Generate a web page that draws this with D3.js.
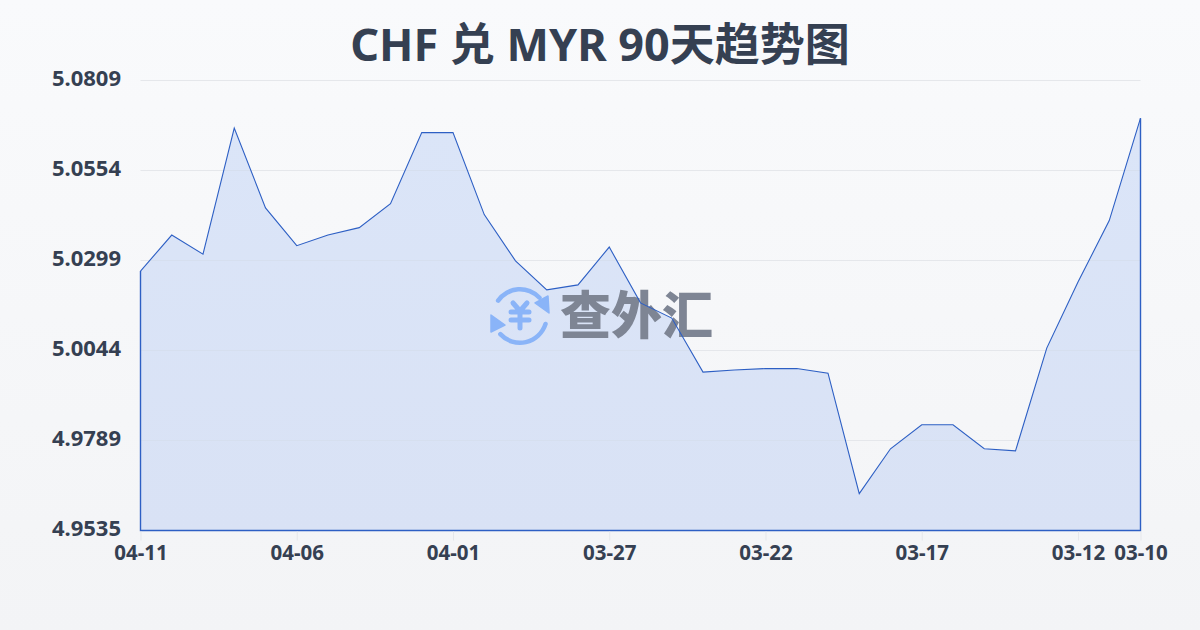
<!DOCTYPE html>
<html><head><meta charset="utf-8">
<script src="https://cdn.jsdelivr.net/npm/d3@7/dist/d3.min.js"></script>
<style>html,body{margin:0;padding:0;background:#f8fafc}svg{display:block}</style>
</head><body><div id="c"></div>
<script>
const chartTitle = "CHF 兑 MYR 90天趋势图";
const watermark = "查外汇";
const dates = ["04-11","04-10","04-09","04-08","04-07","04-06","04-05","04-04","04-03","04-02","04-01","03-31","03-30","03-29","03-28","03-27","03-26","03-25","03-24","03-23","03-22","03-21","03-20","03-19","03-18","03-17","03-16","03-15","03-14","03-13","03-12","03-11","03-10"];
const values = [5.0268,5.0370,5.0316,5.0673,5.0447,5.0340,5.0370,5.0391,5.0459,5.0660,5.0660,5.0428,5.0297,5.0215,5.0229,5.0336,5.0178,5.0135,4.9982,4.9988,4.9992,4.9992,4.9979,4.9638,4.9765,4.9833,4.9833,4.9765,4.9759,5.0050,5.0237,5.0411,5.0701];
const yTicks = [5.0809,5.0554,5.0299,5.0044,4.9789,4.9535];
const xTickLabels = ["04-11","04-06","04-01","03-27","03-22","03-17","03-12","03-10"];

const W=1200,H=630,m={l:140.5,r:1140.5,t:80,b:530.5};
const svg=d3.select("#c").append("svg").attr("width",W).attr("height",H);
const defs=svg.append("defs");
const bg=defs.append("linearGradient").attr("id","bg").attr("x1",0).attr("y1",0).attr("x2",0).attr("y2",1);
bg.append("stop").attr("offset",0).attr("stop-color","#f9fafc");
bg.append("stop").attr("offset",1).attr("stop-color","#f3f4f6");
const ag=defs.append("linearGradient").attr("id","ag").attr("x1",0).attr("y1",0).attr("x2",0).attr("y2",1);
ag.append("stop").attr("offset",0).attr("stop-color","#dbe5f8");
ag.append("stop").attr("offset",1).attr("stop-color","#d9e2f5");
svg.append("rect").attr("width",W).attr("height",H).attr("fill","url(#bg)");

const x=d3.scalePoint().domain(dates).range([m.l,m.r]);
const y=d3.scaleLinear().domain([4.9535,5.0809]).range([530,m.t]);
const sans="'Noto Sans','Noto Sans CJK SC',sans-serif";
const ink="#354052", stroke="#2d5fc4";

svg.append("text").attr("x",600).attr("y",61).attr("text-anchor","middle")
 .attr("font-family",sans).attr("font-weight",700).attr("font-size",45).attr("fill",ink).text(chartTitle);

svg.append("g").selectAll("line").data(yTicks).join("line")
 .attr("x1",m.l).attr("x2",m.r).attr("y1",d=>Math.round(y(d))+.5).attr("y2",d=>Math.round(y(d))+.5)
 .attr("stroke","#e5e7eb").attr("stroke-width",1);

const area=d3.area().x((d,i)=>x(dates[i])).y0(m.b).y1(d=>y(d));
svg.append("path").datum(values).attr("d",area).attr("fill","url(#ag)");
svg.append("g").selectAll("line").data(yTicks.slice(1,5)).join("line")
 .attr("clip-path","url(#areaClip)")
 .attr("x1",m.l).attr("x2",m.r).attr("y1",d=>Math.round(y(d))+.5).attr("y2",d=>Math.round(y(d))+.5)
 .attr("stroke","#d6dfef").attr("stroke-width",1);
defs.append("clipPath").attr("id","areaClip").append("path").datum(values).attr("d",area);

const wm=svg.append("g");
const blue="#8ab4f8";
const ic=wm.append("g").attr("transform","translate(520,316)");
const arc=d3.arc().innerRadius(24.5).outerRadius(29).cornerRadius(2.2);
ic.append("path").attr("d",arc({startAngle:-1.04,endAngle:0.9})).attr("fill",blue);
ic.append("path").attr("d",arc({startAngle:1.79,endAngle:4.05})).attr("fill",blue);
ic.append("path").attr("d",d3.line()([[28,-20],[29,-3],[15,-13]])+"Z").attr("fill",blue).attr("stroke",blue).attr("stroke-width",1.5).attr("stroke-linejoin","round");
ic.append("path").attr("d",d3.line()([[-29,-1],[-29,16],[-15,9]])+"Z").attr("fill",blue).attr("stroke",blue).attr("stroke-width",1.5).attr("stroke-linejoin","round");
ic.append("path").attr("d","M-7,-13L0,-5L7,-13M0,-5V12M-9,-4H9M-9,4H9").attr("fill","none")
 .attr("stroke",blue).attr("stroke-width",5).attr("stroke-linecap","round").attr("stroke-linejoin","round");
wm.append("text").attr("x",560).attr("y",334).attr("font-family","'Noto Sans CJK SC'").attr("font-weight",900)
 .attr("font-size",51).attr("fill","#7e8594").text(watermark);

const outline=d3.line()([[m.l,y(values[0])],[m.l,m.b],[m.r,m.b],[m.r,y(values[values.length-1])]]);
svg.append("path").attr("d",outline).attr("fill","none").attr("stroke",stroke).attr("stroke-width",1.4);
svg.append("path").datum(values).attr("fill","none").attr("stroke",stroke).attr("stroke-width",1.1).attr("d",area.lineY1());

const yAxis=d3.axisLeft(y).tickValues(yTicks).tickSize(0).tickPadding(0).tickFormat(d3.format(".4f"));
const gy=svg.append("g").attr("transform","translate(121,0)").call(yAxis);
gy.select(".domain").remove();
gy.selectAll("text").attr("font-family",sans).attr("font-weight",700).attr("font-size",22).attr("fill",ink).attr("dy","0.25em");

const xAxis=d3.axisBottom(x).tickValues(xTickLabels).tickSize(5).tickPadding(8);
const gx=svg.append("g").attr("transform","translate(0,530.5)").call(xAxis);
gx.select(".domain").remove();
gx.selectAll("line").attr("stroke","#e5e7eb").attr("y1",1).attr("y2",10);
gx.selectAll("text").attr("font-family",sans).attr("font-weight",700).attr("font-size",20.5).attr("fill",ink).attr("y",15).attr("dy","0.71em");
</script></body></html>
